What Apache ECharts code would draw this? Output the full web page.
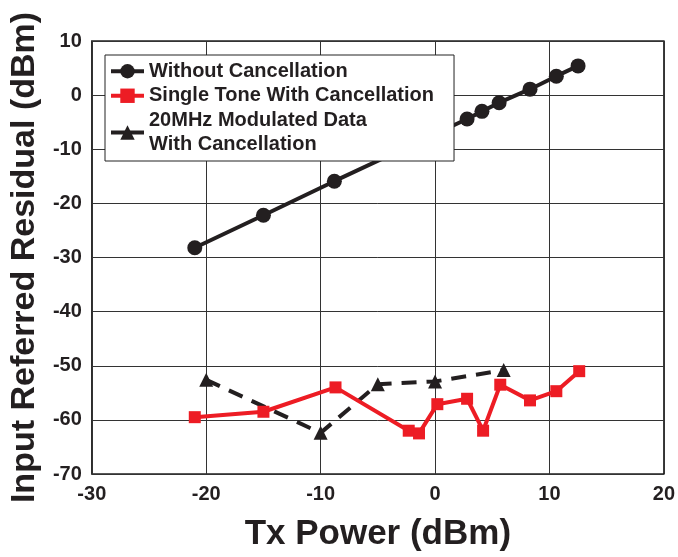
<!DOCTYPE html>
<html>
<head>
<meta charset="utf-8">
<script src="https://cdn.jsdelivr.net/npm/echarts@6/dist/echarts.min.js"></script>
<style>html,body{margin:0;padding:0;background:#fff}#c{width:678px;height:557px}</style>
</head>
<body>
<div id="c"></div>
<script>
var seriesNames = ['Without Cancellation', 'Single Tone With Cancellation', '20MHz Modulated Data\nWith Cancellation'];
var withoutX = [-21.0, -15.0, -8.8, 2.8, 4.1, 5.6, 8.3, 10.6, 12.5];
var withoutY = [-28.2, -22.2, -15.9, -4.4, -3.0, -1.4, 1.1, 3.5, 5.4];
var toneX = [-21.0, -15.0, -8.7, -2.3, -1.4, 0.2, 2.8, 4.2, 5.7, 8.3, 10.6, 12.6];
var toneY = [-59.5, -58.5, -54.0, -62.0, -62.5, -57.1, -56.1, -62.0, -53.5, -56.4, -54.7, -51.0];
var modX = [-20.0, -10.0, -5.0, 0.0, 6.0];
var modY = [-52.6, -62.4, -53.4, -52.9, -50.8];
var xTicks = [-30, -20, -10, 0, 10, 20];
var yTicks = [10, 0, -10, -20, -30, -40, -50, -60, -70];
var xTitle = 'Tx Power (dBm)';
var yTitle = 'Input Referred Residual (dBm)';

function pairs(xs, ys) { return xs.map(function (x, i) { return [x, ys[i]]; }); }
var FONT = "'Liberation Sans', Arial, sans-serif";
var INK = '#231f20';
var RED = '#ed1c24';

var chart = echarts.init(document.getElementById('c'), null, { renderer: 'canvas' });
chart.setOption({
  backgroundColor: '#fff',
  animation: false,
  grid: { left: 91, top: 41, width: 575, height: 436, show: true, borderColor: '#222', borderWidth: 1.5, backgroundColor: 'transparent' },
  legend: {
    orient: 'vertical', left: 105, top: 55,
    backgroundColor: '#fff', borderColor: '#222', borderWidth: 1,
    padding: [4, 20, 4, 4], itemGap: 0, itemWidth: 33, itemHeight: 18,
    lineStyle: { width: 4 },
    textStyle: { fontFamily: FONT, fontWeight: 'bold', fontSize: 20, color: INK, lineHeight: 24.5 },
    data: [
      { name: seriesNames[0] },
      { name: seriesNames[1] },
      { name: seriesNames[2], lineStyle: { type: 'solid', width: 4 } }
    ]
  },
  xAxis: {
    type: 'value', min: xTicks[0], max: xTicks[xTicks.length - 1], interval: 10,
    axisLine: { show: false }, axisTick: { show: false },
    splitLine: { show: true, lineStyle: { color: '#333', width: 1 } },
    axisLabel: { fontFamily: FONT, fontWeight: 'bold', fontSize: 20, color: INK, margin: 10 },
    name: xTitle, nameLocation: 'middle', nameGap: 43,
    nameTextStyle: { fontFamily: FONT, fontWeight: 'bold', fontSize: 35, color: INK }
  },
  yAxis: {
    type: 'value', min: yTicks[yTicks.length - 1], max: yTicks[0], interval: 10,
    axisLine: { show: false }, axisTick: { show: false },
    splitLine: { show: true, lineStyle: { color: '#333', width: 1 } },
    axisLabel: { fontFamily: FONT, fontWeight: 'bold', fontSize: 20, color: INK, margin: 10 },
    name: yTitle, nameLocation: 'middle', nameGap: 48,
    nameTextStyle: { fontFamily: FONT, fontWeight: 'bold', fontSize: 34, color: INK }
  },
  series: [
    {
      name: seriesNames[0], type: 'line', data: pairs(withoutX, withoutY),
      symbol: 'circle', symbolSize: 15, color: INK,
      lineStyle: { color: INK, width: 4 }, itemStyle: { color: INK }, z: 3
    },
    {
      name: seriesNames[1], type: 'line', data: pairs(toneX, toneY),
      symbol: 'rect', symbolSize: 12, color: RED,
      lineStyle: { color: RED, width: 4 }, itemStyle: { color: RED }, z: 3
    },
    {
      name: seriesNames[2], type: 'line', data: pairs(modX, modY),
      symbol: 'triangle', symbolSize: 14, color: INK,
      lineStyle: { color: INK, width: 4, type: [15, 10] }, itemStyle: { color: INK }, z: 2
    }
  ]
});
</script>
</body>
</html>
